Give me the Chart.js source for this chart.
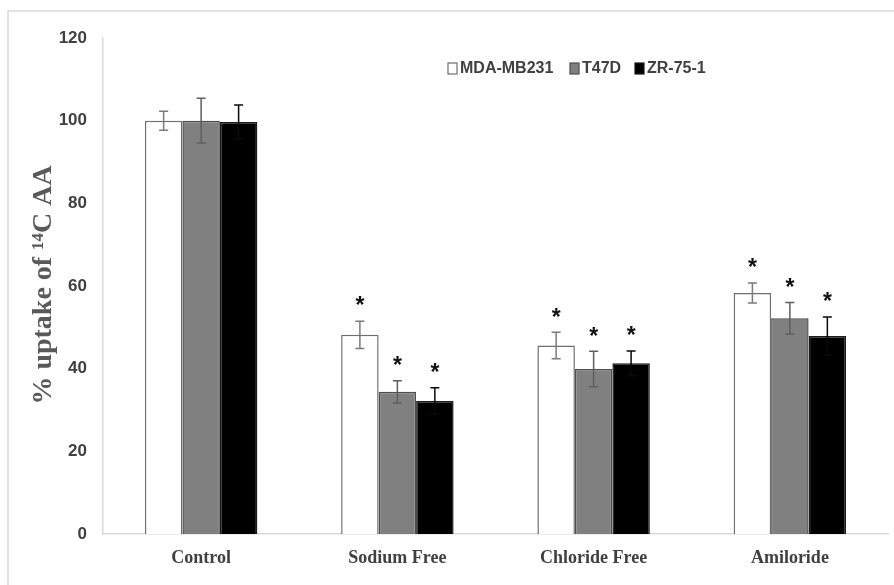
<!DOCTYPE html>
<html>
<head>
<meta charset="utf-8">
<script src="https://cdn.jsdelivr.net/npm/chart.js@4.4.1/dist/chart.umd.min.js"></script>
<style>
  html, body { margin: 0; padding: 0; background: #fff; overflow: hidden; }
  canvas { display: block; }
</style>
</head>
<body>
<canvas id="uptake-chart" width="894" height="585"></canvas>
<script>
const categories = ['Control', 'Sodium Free', 'Chloride Free', 'Amiloride'];
const seriesNames = ['MDA-MB231', 'T47D', 'ZR-75-1'];

const mdaValues = [100, 48.2, 45.6, 58.3];
const t47dValues = [100, 34.4, 39.9, 52.2];
const zrValues = [99.7, 32.2, 41.3, 47.9];

const mdaErrors = [2.3, 3.3, 3.2, 2.4];
const t47dErrors = [5.4, 2.7, 4.3, 3.8];
const zrErrors = [4.1, 3.2, 3.0, 4.6];

// significance markers (*) per series
const mdaStars = [false, true, true, true];
const t47dStars = [false, true, true, true];
const zrStars = [false, true, true, true];

const yTicks = [0, 20, 40, 60, 80, 100, 120];
const yTitle = '% uptake of \u00B9\u2074C AA';

const fills = ['#ffffff', '#808080', '#000000'];
const borders = ['#6e6e6e', '#4d4d4d', '#1a1a1a'];
const errColors = ['#7a7a7a', '#5e5e5e', '#0a0a0a'];

const valueSets = [mdaValues, t47dValues, zrValues];
const errorSets = [mdaErrors, t47dErrors, zrErrors];
const starSets = [mdaStars, t47dStars, zrStars];

// error bars + asterisks drawn after bars
const errorBarPlugin = {
    id: 'errorBars',
    afterDatasetsDraw(chart) {
        const ctx = chart.ctx;
        const yScale = chart.scales.y;
        ctx.save();
        chart.data.datasets.forEach((ds, i) => {
            const meta = chart.getDatasetMeta(i);
            meta.data.forEach((bar, j) => {
                const v = valueSets[i][j];
                const e = errorSets[i][j];
                const x = bar.x;
                const yTop = yScale.getPixelForValue(v + e);
                const yBot = yScale.getPixelForValue(v - e);
                ctx.strokeStyle = errColors[i];
                ctx.lineWidth = 1.5;
                ctx.beginPath();
                ctx.moveTo(x, yTop);
                ctx.lineTo(x, yBot);
                ctx.moveTo(x - 4.5, yTop);
                ctx.lineTo(x + 4.5, yTop);
                ctx.moveTo(x - 4.5, yBot);
                ctx.lineTo(x + 4.5, yBot);
                ctx.stroke();
                if (starSets[i][j]) {
                    ctx.fillStyle = '#111';
                    ctx.font = 'bold 23px "Liberation Sans", Arial, sans-serif';
                    ctx.textAlign = 'center';
                    ctx.textBaseline = 'middle';
                    ctx.fillText('*', x, yTop - 14);
                }
            });
        });
        ctx.restore();
    }
};

// legend, y title and the outer frame
const decorPlugin = {
    id: 'decor',
    afterDraw(chart) {
        const ctx = chart.ctx;
        const area = chart.chartArea;
        ctx.save();

        ctx.strokeStyle = '#d9d9d9';
        ctx.lineWidth = 1.5;
        ctx.beginPath();
        ctx.moveTo(8, 585);
        ctx.lineTo(8, 11);
        ctx.lineTo(894, 11);
        ctx.stroke();

        ctx.translate(44, 285);
        ctx.rotate(-Math.PI / 2);
        ctx.fillStyle = '#595959';
        ctx.font = 'bold 28px "Liberation Serif", "Times New Roman", serif';
        ctx.textAlign = 'center';
        ctx.textBaseline = 'middle';
        ctx.fillText(yTitle, 0, 0);
        ctx.setTransform(1, 0, 0, 1, 0, 0);

        const legendX = [448, 570, 635];
        ctx.font = 'bold 16px "Liberation Sans Narrow", "Arial Narrow", sans-serif';
        ctx.textAlign = 'left';
        ctx.textBaseline = 'middle';
        chart.data.datasets.forEach((ds, i) => {
            const lx = legendX[i];
            ctx.fillStyle = fills[i];
            ctx.fillRect(lx, 63, 9, 11);
            ctx.strokeStyle = borders[i];
            ctx.lineWidth = 1.2;
            ctx.strokeRect(lx, 63, 9, 11);
            ctx.fillStyle = '#404040';
            ctx.fillText(ds.label, lx + 12, 69);
        });
        ctx.restore();
    }
};

const ctx = document.getElementById('uptake-chart').getContext('2d');
const uptakeChart = new Chart(ctx, {
    type: 'bar',
    data: {
        labels: categories,
        datasets: seriesNames.map((name, i) => ({
            label: name,
            data: valueSets[i],
            backgroundColor: fills[i],
            borderColor: borders[i],
            borderWidth: 1.5,
            categoryPercentage: 0.573,
            barPercentage: 1.0
        }))
    },
    options: {
        responsive: false,
        animation: false,
        layout: {
            padding: { top: 38, right: 6, left: 0, bottom: 0 }
        },
        plugins: {
            legend: { display: false },
            tooltip: { enabled: false }
        },
        scales: {
            x: {
                grid: { display: false, drawTicks: false },
                border: { display: true, color: '#d9d9d9', width: 1.5 },
                ticks: {
                    color: '#404040',
                    padding: 14,
                    font: { family: '"Liberation Serif", "Times New Roman", serif', size: 18, weight: 'bold' }
                },
                afterFit(scale) { scale.height = 51; }
            },
            y: {
                min: 0,
                max: 120,
                afterBuildTicks(scale) { scale.ticks = yTicks.map(v => ({ value: v })); },
                grid: { display: false, drawTicks: false },
                border: { display: true, color: '#d9d9d9', width: 1.5 },
                ticks: {
                    color: '#404040',
                    padding: 16,
                    font: { family: '"Liberation Sans Narrow", "Arial Narrow", sans-serif', size: 17, weight: 'bold' }
                },
                afterFit(scale) { scale.width = 103; }
            }
        }
    },
    plugins: [errorBarPlugin, decorPlugin]
});
</script>
</body>
</html>
